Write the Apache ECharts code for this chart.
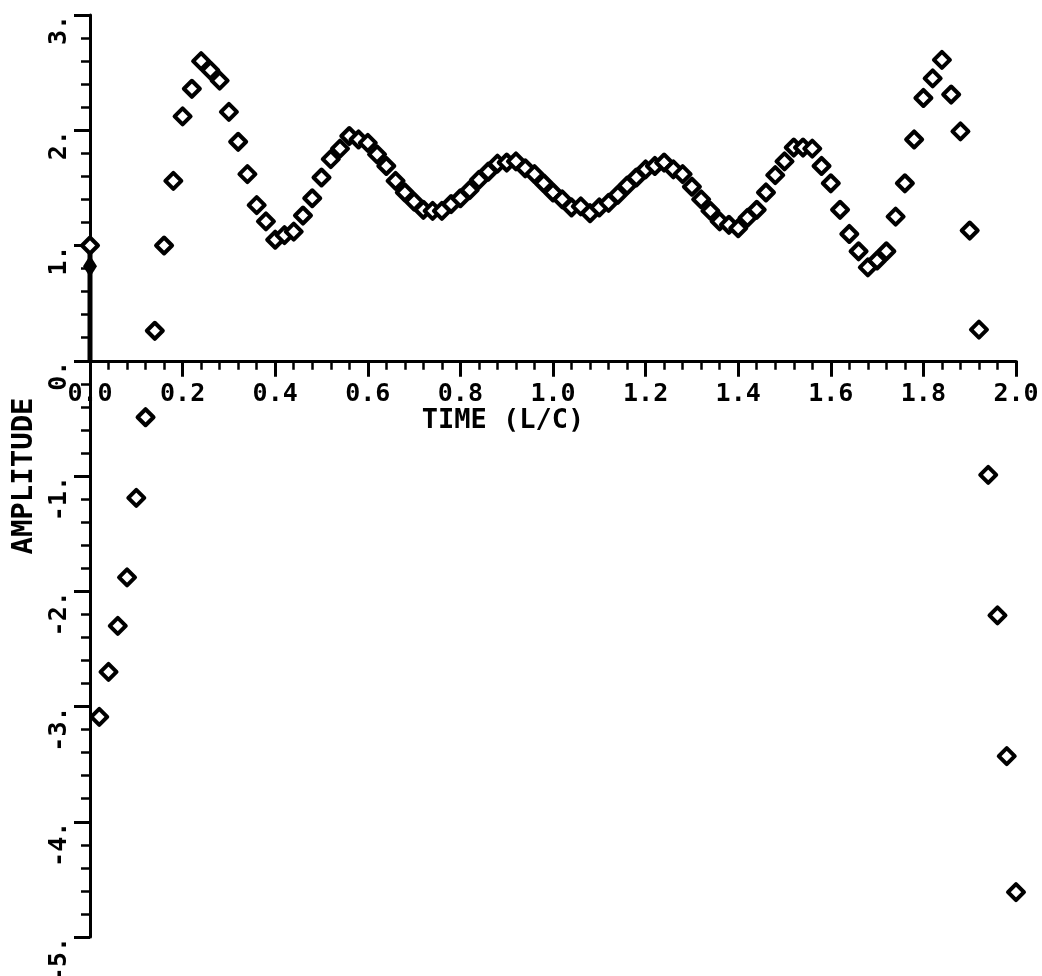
<!DOCTYPE html>
<html><head><meta charset="utf-8">
<script src="https://cdn.jsdelivr.net/npm/echarts@6/dist/echarts.min.js"></script>
<style>html,body{margin:0;padding:0;background:#fff}#chart{width:1042px;height:976px}</style>
</head><body><div id="chart"></div>
<script>
// Sample times (L/C)
const times = [
  0.00, 0.02, 0.04, 0.06, 0.08, 0.10, 0.12, 0.14, 0.16, 0.18,
  0.20, 0.22, 0.24, 0.26, 0.28, 0.30, 0.32, 0.34, 0.36, 0.38,
  0.40, 0.42, 0.44, 0.46, 0.48, 0.50, 0.52, 0.54, 0.56, 0.58,
  0.60, 0.62, 0.64, 0.66, 0.68, 0.70, 0.72, 0.74, 0.76, 0.78,
  0.80, 0.82, 0.84, 0.86, 0.88, 0.90, 0.92, 0.94, 0.96, 0.98,
  1.00, 1.02, 1.04, 1.06, 1.08, 1.10, 1.12, 1.14, 1.16, 1.18,
  1.20, 1.22, 1.24, 1.26, 1.28, 1.30, 1.32, 1.34, 1.36, 1.38,
  1.40, 1.42, 1.44, 1.46, 1.48, 1.50, 1.52, 1.54, 1.56, 1.58,
  1.60, 1.62, 1.64, 1.66, 1.68, 1.70, 1.72, 1.74, 1.76, 1.78,
  1.80, 1.82, 1.84, 1.86, 1.88, 1.90, 1.92, 1.94, 1.96, 1.98,
  2.00
];
// Amplitude
const amplitudes = [
  1.00, -3.09, -2.70, -2.30, -1.88, -1.19, -0.49, 0.26, 1.00, 1.56,
  2.12, 2.36, 2.60, 2.52, 2.43, 2.16, 1.90, 1.62, 1.35, 1.21,
  1.05, 1.09, 1.12, 1.26, 1.41, 1.59, 1.75, 1.84, 1.95, 1.92,
  1.89, 1.79, 1.69, 1.56, 1.46, 1.38, 1.31, 1.30, 1.30, 1.36,
  1.41, 1.48, 1.57, 1.64, 1.71, 1.72, 1.73, 1.67, 1.62, 1.54,
  1.46, 1.40, 1.33, 1.34, 1.28, 1.33, 1.37, 1.44, 1.52, 1.59,
  1.66, 1.69, 1.72, 1.66, 1.62, 1.51, 1.40, 1.30, 1.21, 1.18,
  1.15, 1.24, 1.31, 1.46, 1.61, 1.73, 1.85, 1.85, 1.84, 1.69,
  1.54, 1.31, 1.10, 0.95, 0.81, 0.87, 0.95, 1.25, 1.54, 1.92,
  2.28, 2.45, 2.61, 2.31, 1.99, 1.13, 0.27, -0.99, -2.21, -3.43,
  -4.61
];
// Impulse at t = 0
const impulseTimes = [0.00, 0.00];
const impulseValues = [0.00, 0.95];
const impulseHeadTime = [0.00];
const impulseHeadValue = [0.82];

const xTickLabels = ['0.0','0.2','0.4','0.6','0.8','1.0','1.2','1.4','1.6','1.8','2.0'];
const yTickLabels = ['-5.','-4.','-3.','-2.','-1.','0.','1.','2.','3.'];

const FONT = 'DejaVu Sans Mono';
const chart = echarts.init(document.getElementById('chart'), null, {renderer: 'canvas'});

const tickStyle = {color: '#000', width: 3};
const minorStyle = {color: '#000', width: 2.5};

chart.setOption({
  animation: false,
  backgroundColor: '#fff',
  grid: [
    // main plotting area
    {left: 90, right: 26, top: 15, bottom: 39, containLabel: false, outerBoundsMode: 'none'},
    // helper area ending at the zero line, used only for x labels / title
    {left: 90, right: 26, top: 15, height: 345, containLabel: false, outerBoundsMode: 'none'}
  ],
  xAxis: [
    {
      gridIndex: 0, type: 'value', min: 0, max: 2, interval: 0.2,
      axisLine: {onZero: true, lineStyle: {color: '#000', width: 3}},
      axisTick: {show: true, length: 16, lineStyle: tickStyle},
      minorTick: {show: true, splitNumber: 5, length: 9, lineStyle: minorStyle},
      splitLine: {show: false}, minorSplitLine: {show: false},
      axisLabel: {show: false}
    },
    {
      gridIndex: 1, type: 'value', min: 0, max: 2, interval: 0.2,
      axisLine: {show: false, onZero: false}, axisTick: {show: false},
      splitLine: {show: false},
      axisLabel: {
        color: '#000', fontFamily: FONT, fontSize: 25, fontWeight: 'bold', margin: 22,
        formatter: function (v) { return xTickLabels[Math.round(v / 0.2)]; }
      },
      name: 'TIME (L/C)', nameLocation: 'middle', nameGap: 44,
      nameTextStyle: {color: '#000', fontFamily: FONT, fontSize: 27, fontWeight: 'bold', padding: [0, 100, 0, 0]}
    }
  ],
  yAxis: [
    {
      gridIndex: 0, type: 'value', min: -5, max: 3, interval: 1,
      axisLine: {onZero: false, lineStyle: {color: '#000', width: 3}},
      axisTick: {show: true, length: 16, lineStyle: tickStyle},
      minorTick: {show: true, splitNumber: 5, length: 9, lineStyle: minorStyle},
      splitLine: {show: false}, minorSplitLine: {show: false},
      axisLabel: {
        color: '#000', fontFamily: FONT, fontSize: 25, fontWeight: 'bold', margin: 18,
        rotate: 90, align: 'right', verticalAlign: 'bottom',
        formatter: function (v) { return yTickLabels[Math.round(v + 5)]; }
      },
      name: 'AMPLITUDE', nameLocation: 'middle', nameGap: 48,
      nameTextStyle: {color: '#000', fontFamily: FONT, fontSize: 29, fontWeight: 'bold'}
    },
    {
      gridIndex: 1, type: 'value', min: 0, max: 3, show: false
    }
  ],
  series: [
    {
      type: 'line', xAxisIndex: 0, yAxisIndex: 0,
      data: impulseTimes.map((t, i) => [t, impulseValues[i]]),
      showSymbol: false, symbol: 'none',
      lineStyle: {color: '#000', width: 5},
      clip: false, z: 3
    },
    {
      type: 'scatter', xAxisIndex: 0, yAxisIndex: 0,
      data: impulseHeadTime.map((t, i) => [t, impulseHeadValue[i]]),
      symbol: 'diamond', symbolSize: [14, 22],
      itemStyle: {color: '#000', opacity: 1},
      clip: false, z: 3
    },
    {
      type: 'scatter', xAxisIndex: 0, yAxisIndex: 0,
      data: times.map((t, i) => [t, amplitudes[i]]),
      symbol: 'diamond', symbolSize: 16,
      itemStyle: {color: '#fff', borderColor: '#000', borderWidth: 4, borderJoin: 'round', opacity: 1},
      clip: false, z: 4
    }
  ]
});
</script>
</body></html>
